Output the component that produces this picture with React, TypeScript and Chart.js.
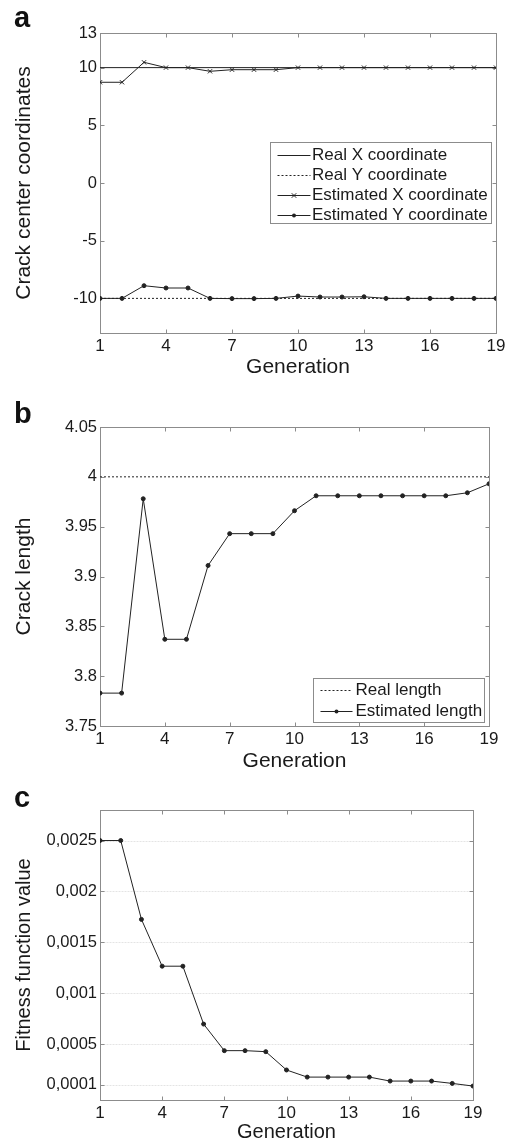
import React, { useEffect, useRef } from "react";
import { Chart, registerables } from "chart.js";

Chart.register(...registerables);

const FONT = "'Liberation Sans', Arial, Helvetica, sans-serif";
const INK = "#1a1a1a";
const LINE = "#222222";
const FRAME = "#8c8c8c";

// ---------- data ----------
const generations = [1, 2, 3, 4, 5, 6, 7, 8, 9, 10, 11, 12, 13, 14, 15, 16, 17, 18, 19];
const xTicks = [1, 4, 7, 10, 13, 16, 19];

// panel a
const realX = [10, 10, 10, 10, 10, 10, 10, 10, 10, 10, 10, 10, 10, 10, 10, 10, 10, 10, 10];
const realY = [-10, -10, -10, -10, -10, -10, -10, -10, -10, -10, -10, -10, -10, -10, -10, -10, -10, -10, -10];
const estX = [8.73, 8.73, 10.46, 10, 10, 9.68, 9.82, 9.82, 9.82, 10, 10, 10, 10, 10, 10, 10, 10, 10, 10];
const estY = [-10, -10, -8.9, -9.1, -9.1, -10, -10.02, -10.02, -10, -9.8, -9.88, -9.88, -9.86, -10, -10, -10, -10, -10, -10];
const aYTicks = [-10, -5, 0, 5, 10, 13];

// panel b
const realLength = [4, 4, 4, 4, 4, 4, 4, 4, 4, 4, 4, 4, 4, 4, 4, 4, 4, 4, 4];
const estLength = [3.783, 3.783, 3.978, 3.837, 3.837, 3.911, 3.943, 3.943, 3.943, 3.966, 3.981, 3.981, 3.981, 3.981, 3.981, 3.981, 3.981, 3.984, 3.993];
const bYTicks = [3.75, 3.8, 3.85, 3.9, 3.95, 4, 4.05];

// panel c
const fitness = [0.0025, 0.0025, 0.001725, 0.001265, 0.001265, 0.000696, 0.000435, 0.000435, 0.000425, 0.000245, 0.000175, 0.000175, 0.000175, 0.000175, 0.000136, 0.000136, 0.000136, 0.000113, 0.000087];
const cYTicks = [0.0001, 0.0005, 0.001, 0.0015, 0.002, 0.0025];

// ---------- helpers ----------
function pts(values: number[]) {
  return values.map((v, i) => ({ x: generations[i], y: v }));
}

function fixedTicks(values: number[]) {
  return (scale: any) => {
    scale.ticks = values.map((v) => ({ value: v }));
  };
}

const framePlugin = {
  id: "frame",
  beforeDatasetsDraw(chart: any, _args: any, opts: any) {
    const { ctx, chartArea } = chart;
    const L = Math.round(chartArea.left) + 0.5;
    const R = Math.round(chartArea.right) + 0.5;
    const T = Math.round(chartArea.top) + 0.5;
    const B = Math.round(chartArea.bottom) + 0.5;
    const xs = chart.scales.x;
    const ys = chart.scales.y;
    const tl = 4;
    ctx.save();
    if (opts && opts.gridY) {
      ctx.strokeStyle = "#e4e4e4";
      ctx.lineWidth = 1;
      ctx.setLineDash([2, 1]);
      ys.ticks.forEach((t: any) => {
        const py = Math.round(ys.getPixelForValue(t.value)) + 0.5;
        ctx.beginPath();
        ctx.moveTo(L, py);
        ctx.lineTo(R, py);
        ctx.stroke();
      });
      ctx.setLineDash([]);
    }
    ctx.strokeStyle = FRAME;
    ctx.lineWidth = 1;
    ctx.strokeRect(L, T, R - L, B - T);
    ctx.beginPath();
    xs.ticks.forEach((t: any) => {
      const px = Math.round(xs.getPixelForValue(t.value)) + 0.5;
      ctx.moveTo(px, B);
      ctx.lineTo(px, B - tl);
      ctx.moveTo(px, T);
      ctx.lineTo(px, T + tl);
    });
    ys.ticks.forEach((t: any) => {
      const py = Math.round(ys.getPixelForValue(t.value)) + 0.5;
      ctx.moveTo(L, py);
      ctx.lineTo(L + tl, py);
      ctx.moveTo(R, py);
      ctx.lineTo(R - tl, py);
    });
    ctx.stroke();
    ctx.restore();
  },
};

function drawMarker(ctx: CanvasRenderingContext2D, style: string, x: number, y: number, r: number, color: string) {
  if (!r) return;
  ctx.save();
  ctx.strokeStyle = color;
  ctx.fillStyle = color;
  ctx.setLineDash([]);
  ctx.lineWidth = 1;
  if (style === "crossRot") {
    ctx.beginPath();
    ctx.moveTo(x - r * 0.75, y - r * 0.75);
    ctx.lineTo(x + r * 0.75, y + r * 0.75);
    ctx.moveTo(x - r * 0.75, y + r * 0.75);
    ctx.lineTo(x + r * 0.75, y - r * 0.75);
    ctx.stroke();
  } else {
    ctx.beginPath();
    ctx.arc(x, y, r, 0, Math.PI * 2);
    ctx.fill();
  }
  ctx.restore();
}

const boxLegendPlugin = {
  id: "boxLegend",
  afterDatasetsDraw(chart: any, _args: any, o: any) {
    if (!o || !o.display) return;
    const { ctx, chartArea } = chart;
    const x0 = Math.round(chartArea.right - o.right - o.width) + 0.5;
    const y0 =
      o.fromBottom != null
        ? Math.round(chartArea.bottom - o.fromBottom - o.height) + 0.5
        : Math.round(chartArea.top + o.top) + 0.5;
    ctx.save();
    ctx.fillStyle = "#ffffff";
    ctx.fillRect(x0, y0, o.width, o.height);
    ctx.strokeStyle = FRAME;
    ctx.lineWidth = 1;
    ctx.strokeRect(x0, y0, o.width, o.height);
    ctx.font = `${o.fontSize}px ${FONT}`;
    ctx.textBaseline = "middle";
    ctx.textAlign = "left";
    chart.data.datasets.forEach((ds: any, i: number) => {
      const cy = Math.round(y0 + o.firstRow + i * o.rowH) + 0.5;
      ctx.strokeStyle = ds.borderColor;
      ctx.lineWidth = 1;
      ctx.setLineDash(ds.borderDash || []);
      ctx.beginPath();
      ctx.moveTo(x0 + o.lineStart, cy);
      ctx.lineTo(x0 + o.lineEnd, cy);
      ctx.stroke();
      ctx.setLineDash([]);
      drawMarker(ctx, ds.pointStyle || "circle", x0 + (o.lineStart + o.lineEnd) / 2, cy, ds.pointRadius || 0, ds.borderColor);
      ctx.fillStyle = INK;
      ctx.fillText(ds.label, x0 + o.textX, cy);
    });
    ctx.restore();
  },
};

function xScale(height: number, titleSize: number, titlePad: number) {
  return {
    type: "linear",
    min: 1,
    max: 19,
    afterBuildTicks: fixedTicks(xTicks),
    afterFit: (s: any) => {
      s.height = height;
    },
    grid: { display: false, drawTicks: false },
    border: { display: false },
    ticks: {
      font: { family: FONT, size: 17 },
      color: INK,
      padding: 3,
      maxRotation: 0,
      autoSkip: false,
      callback: (v: any) => String(v),
    },
    title: {
      display: true,
      text: "Generation",
      font: { family: FONT, size: titleSize, lineHeight: 1 },
      color: INK,
      padding: { top: 0, bottom: titlePad },
    },
  };
}

function yScale(min: number, max: number, ticks: number[], title: string, titleSize: number, fmt: (v: number) => string) {
  return {
    type: "linear",
    min,
    max,
    afterBuildTicks: fixedTicks(ticks),
    afterFit: (s: any) => {
      s.width = 100;
    },
    grid: { display: false, drawTicks: false },
    border: { display: false },
    ticks: {
      font: { family: FONT, size: 16.5 },
      color: INK,
      padding: 3,
      autoSkip: false,
      callback: (v: any) => fmt(Number(v)),
    },
    title: {
      display: true,
      text: title,
      font: { family: FONT, size: titleSize, lineHeight: 1 },
      color: INK,
      padding: { top: 14, bottom: 0 },
    },
  };
}

const baseLine = { borderColor: LINE, borderWidth: 1, tension: 0, fill: false };

function buildA(): any {
  return {
    type: "line",
    data: {
      datasets: [
        { ...baseLine, label: "Real X coordinate", data: pts(realX), pointRadius: 0 },
        { ...baseLine, label: "Real Y coordinate", data: pts(realY), pointRadius: 0, borderDash: [2, 2] },
        {
          ...baseLine,
          label: "Estimated X coordinate",
          data: pts(estX),
          pointStyle: "crossRot",
          pointRadius: 3,
          pointBorderColor: LINE,
          pointBorderWidth: 1,
        },
        {
          ...baseLine,
          label: "Estimated Y coordinate",
          data: pts(estY),
          pointStyle: "circle",
          pointRadius: 2,
          pointBackgroundColor: LINE,
          pointBorderColor: LINE,
        },
      ],
    },
    options: {
      animation: false,
      responsive: false,
      devicePixelRatio: 1,
      layout: { padding: { left: 0, right: 16, top: 33, bottom: 0 } },
      plugins: {
        legend: { display: false },
        tooltip: { enabled: false },
        frame: {},
        boxLegend: {
          display: true,
          right: 5,
          top: 109,
          width: 221,
          height: 81,
          firstRow: 12.5,
          rowH: 19.9,
          lineStart: 7,
          lineEnd: 40,
          textX: 41.5,
          fontSize: 17,
        },
      },
      scales: {
        x: xScale(47, 21, 2),
        y: yScale(-13, 13, aYTicks, "Crack center coordinates", 21, (v) => String(v)),
      },
    },
    plugins: [framePlugin, boxLegendPlugin],
  };
}

function buildB(): any {
  return {
    type: "line",
    data: {
      datasets: [
        { ...baseLine, label: "Real length", data: pts(realLength), pointRadius: 0, borderDash: [2, 2] },
        {
          ...baseLine,
          label: "Estimated length",
          data: pts(estLength),
          pointStyle: "circle",
          pointRadius: 2,
          pointBackgroundColor: LINE,
          pointBorderColor: LINE,
        },
      ],
    },
    options: {
      animation: false,
      responsive: false,
      devicePixelRatio: 1,
      layout: { padding: { left: 0, right: 23, top: 47, bottom: 0 } },
      plugins: {
        legend: { display: false },
        tooltip: { enabled: false },
        frame: {},
        boxLegend: {
          display: true,
          right: 5,
          fromBottom: 4,
          width: 171,
          height: 44,
          firstRow: 11.3,
          rowH: 20.7,
          lineStart: 7,
          lineEnd: 39,
          textX: 42,
          fontSize: 17,
        },
      },
      scales: {
        x: xScale(49, 21, 3.5),
        y: yScale(3.75, 4.05, bYTicks, "Crack length", 21, (v) => String(parseFloat(v.toFixed(4)))),
      },
    },
    plugins: [framePlugin, boxLegendPlugin],
  };
}

function buildC(): any {
  return {
    type: "line",
    data: {
      datasets: [
        {
          ...baseLine,
          label: "Fitness function value",
          data: pts(fitness),
          pointStyle: "circle",
          pointRadius: 2,
          pointBackgroundColor: LINE,
          pointBorderColor: LINE,
        },
      ],
    },
    options: {
      animation: false,
      responsive: false,
      devicePixelRatio: 1,
      layout: { padding: { left: 0, right: 39, top: 35, bottom: 0 } },
      plugins: {
        legend: { display: false },
        tooltip: { enabled: false },
        frame: { gridY: true },
        boxLegend: { display: false },
      },
      scales: {
        x: xScale(42, 20, 0),
        y: yScale(-0.00005, 0.0028, cYTicks, "Fitness function value", 20, (v) =>
          String(parseFloat(v.toFixed(6))).replace(".", ",")
        ),
      },
    },
    plugins: [framePlugin, boxLegendPlugin],
  };
}

function ChartPanel({ top, height, build }: { top: number; height: number; build: () => any }) {
  const ref = useRef<HTMLCanvasElement>(null);
  useEffect(() => {
    const chart = new Chart(ref.current as HTMLCanvasElement, build());
    return () => chart.destroy();
  }, []);
  return (
    <canvas
      ref={ref}
      width={512}
      height={height}
      style={{ position: "absolute", left: 0, top, width: 512, height, display: "block" }}
    />
  );
}

const panelLabelStyle: React.CSSProperties = {
  position: "absolute",
  left: 14,
  fontFamily: FONT,
  fontWeight: "bold",
  fontSize: 29,
  lineHeight: "29px",
  color: "#111",
  margin: 0,
};

export default function App() {
  return (
    <div style={{ position: "absolute", left: 0, top: 0, width: 512, height: 1142, background: "#fff", overflow: "hidden" }}>
      <ChartPanel top={0} height={380} build={buildA} />
      <ChartPanel top={380} height={395} build={buildB} />
      <ChartPanel top={775} height={367} build={buildC} />
      <div style={{ ...panelLabelStyle, top: 2.5 }}>a</div>
      <div style={{ ...panelLabelStyle, top: 398.5 }}>b</div>
      <div style={{ ...panelLabelStyle, top: 782.5 }}>c</div>
    </div>
  );
}
